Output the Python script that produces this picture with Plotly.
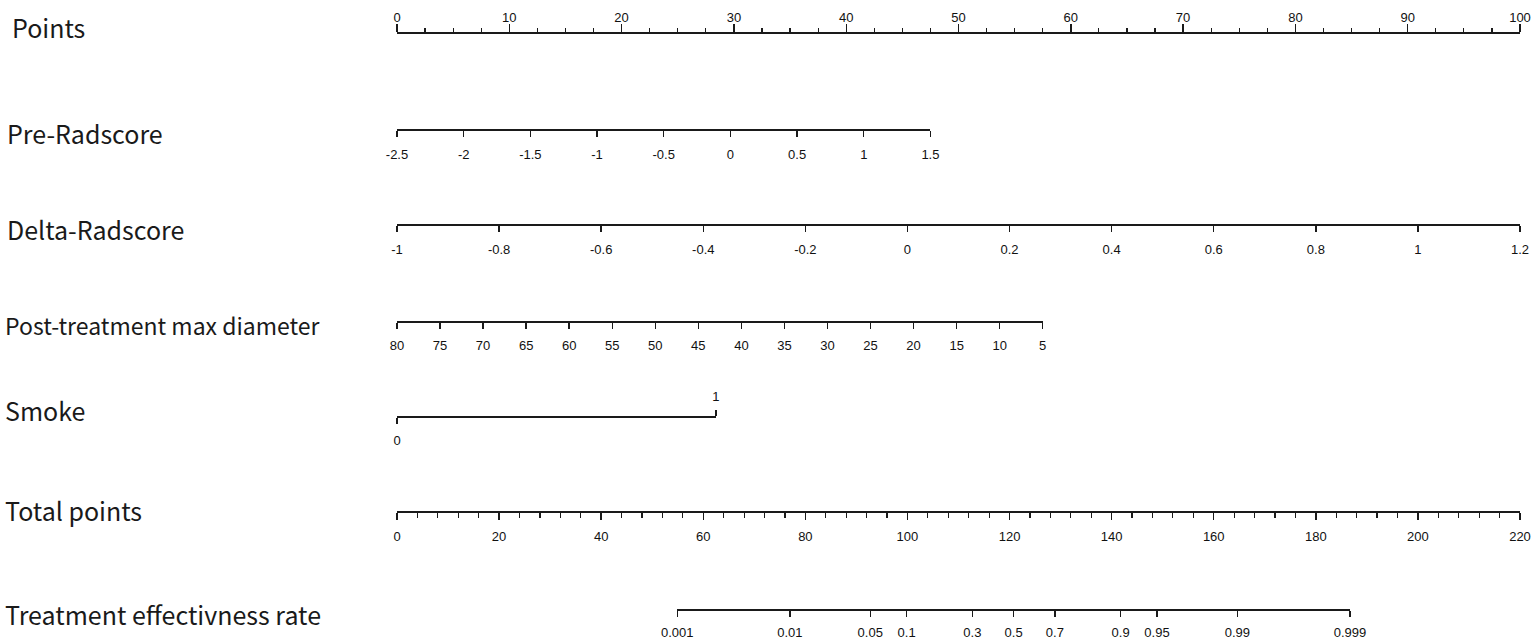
import numpy as np
import plotly.graph_objects as go

# ---------------- data ----------------
points_ticks = [0, 10, 20, 30, 40, 50, 60, 70, 80, 90, 100]
points_minor_step = 2.5

pre_radscore_ticks = [-2.5, -2, -1.5, -1, -0.5, 0, 0.5, 1, 1.5]
pre_radscore_points = [0, 47.5]          # points at first / last tick

delta_radscore_ticks = [-1, -0.8, -0.6, -0.4, -0.2, 0, 0.2, 0.4, 0.6, 0.8, 1, 1.2]
delta_radscore_points = [0, 100]

diameter_ticks = [80, 75, 70, 65, 60, 55, 50, 45, 40, 35, 30, 25, 20, 15, 10, 5]
diameter_points = [0, 57.5]

smoke_ticks = [0, 1]
smoke_points = [0, 28.4]

total_points_ticks = [0, 20, 40, 60, 80, 100, 120, 140, 160, 180, 200, 220]
total_points_minor_step = 4
total_points_max = 220

prob_ticks = [0.001, 0.01, 0.05, 0.1, 0.3, 0.5, 0.7, 0.9, 0.95, 0.99, 0.999]
prob_total_at_half = 120.8      # total points where rate = 0.5
prob_total_per_logit = 9.54     # total points per unit of logit

labels = ["Points", "Pre-Radscore", "Delta-Radscore", "Post-treatment max diameter",
          "Smoke", "Total points", "Treatment effectivness rate"]

# ---------------- layout geometry ----------------
W, H = 1535, 640
X0_PX, X1_PX = 397, 1520
ROW_Y = [32, 129, 224, 321, 416, 511, 609]
LABEL_X = [11, 6, 6, 4, 4, 4, 4]
LABEL_Y = [27, 133, 229, 325, 410, 510, 614]
LABEL_SIZE = [25, 25, 25, 23, 25, 25, 25]
INK = "#1a1a1a"
TICKFONT = dict(family="Liberation Sans, Arial", size=13, color="#111111")


def px_from_points(p):
    return X0_PX + p / 100.0 * (X1_PX - X0_PX)


def domain(p_lo, p_hi):
    return [px_from_points(p_lo) / W, px_from_points(p_hi) / W]


def ypos(y_px):
    return 1 - y_px / H


def padded(a, b):
    e = (b - a) * 1e-6
    return [a - e, b + e]


def fmt(v):
    return "{:g}".format(v)


fig = go.Figure()
layout_axes = {}
axis_count = [0]


def add_axis(dom, rng, tickvals, ticktext, y_px, side, ticklen, standoff,
             minor=None, showline=True):
    axis_count[0] += 1
    n = axis_count[0]
    key = "xaxis" if n == 1 else "xaxis%d" % n
    ref = "x" if n == 1 else "x%d" % n
    ax = dict(
        domain=dom, range=rng, anchor="free", position=ypos(y_px), side=side,
        automargin=False,
        showgrid=False, zeroline=False, showline=showline, linecolor=INK, linewidth=1.6,
        ticks="outside", ticklen=ticklen, tickwidth=1.4, tickcolor=INK,
        tickmode="array", tickvals=tickvals, ticktext=ticktext,
        tickfont=TICKFONT, ticklabelstandoff=standoff, fixedrange=True,
    )
    if minor is not None:
        ax["minor"] = minor
    layout_axes[key] = ax
    fig.add_trace(go.Scatter(x=tickvals, y=[ypos(y_px)] * len(tickvals), xaxis=ref, yaxis="y",
                             mode="markers", marker=dict(opacity=0), hoverinfo="skip",
                             showlegend=False))


# Points
add_axis(domain(0, 100), padded(points_ticks[0], points_ticks[-1]), points_ticks,
         [fmt(v) for v in points_ticks], ROW_Y[0], "top", 8, -3,
         minor=dict(tick0=0, dtick=points_minor_step, ticklen=4, ticks="outside",
                    tickcolor=INK, tickwidth=1.2, showgrid=False))

# Pre-Radscore
add_axis(domain(*pre_radscore_points), padded(pre_radscore_ticks[0], pre_radscore_ticks[-1]),
         pre_radscore_ticks, [fmt(v) for v in pre_radscore_ticks], ROW_Y[1], "bottom", 6, 7)

# Delta-Radscore
add_axis(domain(*delta_radscore_points), padded(delta_radscore_ticks[0], delta_radscore_ticks[-1]),
         delta_radscore_ticks, [fmt(v) for v in delta_radscore_ticks], ROW_Y[2], "bottom", 6, 7)

# Post-treatment max diameter (reversed)
add_axis(domain(*diameter_points), padded(diameter_ticks[0], diameter_ticks[-1]),
         diameter_ticks, [fmt(v) for v in diameter_ticks], ROW_Y[3], "bottom", 6, 6)

# Smoke: 0 below, 1 above
add_axis(domain(*smoke_points), padded(smoke_ticks[0], smoke_ticks[-1]),
         [smoke_ticks[0]], [fmt(smoke_ticks[0])], ROW_Y[4], "bottom", 6, 6)
add_axis(domain(*smoke_points), padded(smoke_ticks[0], smoke_ticks[-1]),
         [smoke_ticks[1]], [fmt(smoke_ticks[1])], ROW_Y[4], "top", 6, 4, showline=False)

# Total points
tp_to_pts = 100.0 / total_points_max
add_axis(domain(0, 100), padded(total_points_ticks[0], total_points_ticks[-1]),
         total_points_ticks, [fmt(v) for v in total_points_ticks], ROW_Y[5], "bottom", 7, 6,
         minor=dict(tick0=0, dtick=total_points_minor_step, ticklen=5, ticks="outside",
                    tickcolor=INK, tickwidth=1.2, showgrid=False))

# Treatment effectiveness rate (logit scale via total points)
p = np.array(prob_ticks)
prob_tp = prob_total_at_half + prob_total_per_logit * np.log(p / (1 - p))
add_axis(domain(prob_tp[0] * tp_to_pts, prob_tp[-1] * tp_to_pts), padded(prob_tp[0], prob_tp[-1]),
         list(prob_tp), [fmt(v) for v in prob_ticks], ROW_Y[6], "bottom", 6, 5)

annotations = []
for lab, x, y, s in zip(labels, LABEL_X, LABEL_Y, LABEL_SIZE):
    annotations.append(dict(text=lab, x=x / W, y=ypos(y),
                            xref="paper", yref="paper", xanchor="left", yanchor="middle",
                            showarrow=False, borderpad=0,
                            font=dict(family="Noto Sans CJK JP, Noto Sans, sans-serif",
                                      size=s, color=INK)))

fig.update_layout(
    width=W, height=H, margin=dict(l=0, r=0, t=0, b=0, autoexpand=False),
    paper_bgcolor="white", plot_bgcolor="rgba(0,0,0,0)",
    showlegend=False, annotations=annotations,
    yaxis=dict(domain=[0, 1], range=[0, 1], visible=False, fixedrange=True, automargin=False),
    **layout_axes,
)

fig.write_html("out.html", config={"displayModeBar": False, "staticPlot": True},
               post_script="document.body.style.margin='0';document.body.style.overflow='hidden';")
